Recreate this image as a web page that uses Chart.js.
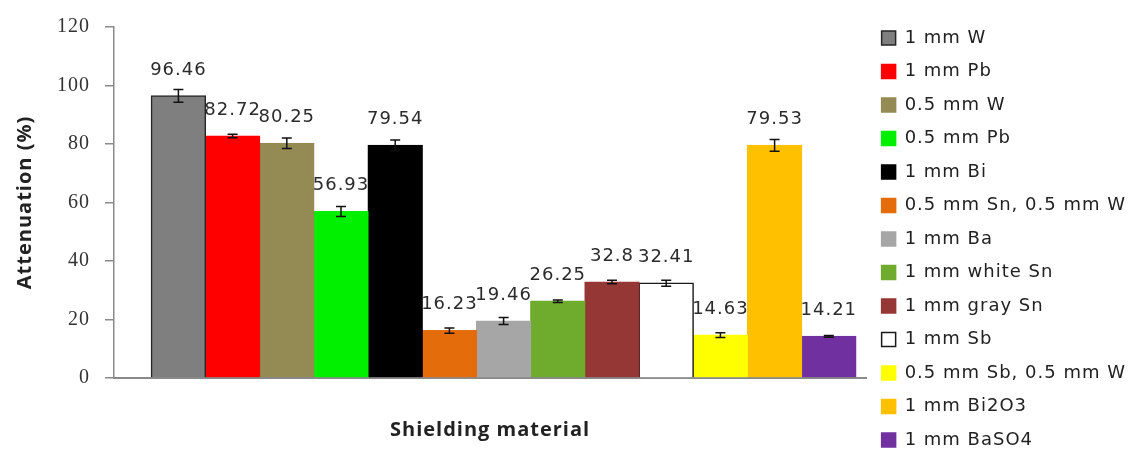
<!DOCTYPE html>
<html>
<head>
<meta charset="utf-8">
<script src="https://cdn.jsdelivr.net/npm/chart.js@4/dist/chart.umd.min.js"></script>
<style>
  html, body { margin: 0; padding: 0; background: #fff; overflow: hidden; }
  #wrap { width: 1136px; height: 472px; }
</style>
</head>
<body>
<div id="wrap"><canvas id="attenuationChart" width="1136" height="472"></canvas></div>
<script>
var materials = ['1 mm W', '1 mm Pb', '0.5 mm W', '0.5 mm Pb', '1 mm Bi', '0.5 mm Sn, 0.5 mm W', '1 mm Ba',
  '1 mm white Sn', '1 mm gray Sn', '1 mm Sb', '0.5 mm Sb, 0.5 mm W', '1 mm Bi2O3', '1 mm BaSO4'];
var attenuation = [96.46, 82.72, 80.25, 56.93, 79.54, 16.23, 19.46, 26.25, 32.8, 32.41, 14.63, 79.53, 14.21];
var errors = [2.2, 0.6, 1.8, 1.7, 1.8, 0.9, 1.2, 0.4, 0.6, 1.0, 0.8, 2.0, 0.3];
var yRange = [0, 120];
var yStep = 20;

var fills = ['#7f7f7f', '#ff0000', '#948a54', '#00f000', '#000000', '#e46c0a', '#a6a6a6',
  '#6fac2e', '#953735', '#ffffff', '#ffff00', '#ffc000', '#7030a0'];
var edges = ['#262626', '#ff0000', '#948a54', '#00f000', '#000000', '#e46c0a', '#a6a6a6',
  '#6fac2e', '#953735', '#1a1a1a', '#ffff00', '#ffc000', '#7030a0'];

// the single group of bars sits a little right of the middle of the plot
var groupCenter = 0.536;

// the reference text is set a bit wide
var spacedText = {
  id: 'spacedText',
  beforeUpdate: function (chart) { chart.ctx.letterSpacing = '1px'; },
  beforeDraw: function (chart) { chart.ctx.letterSpacing = '1px'; }
};

// error bars and value labels on top of each bar
var errorBarsAndLabels = {
  id: 'errorBarsAndLabels',
  afterDatasetsDraw: function (chart) {
    var ctx = chart.ctx;
    var yScale = chart.scales.y;
    ctx.save();
    chart.data.datasets.forEach(function (ds, i) {
      var bar = chart.getDatasetMeta(i).data[0];
      var value = attenuation[i];
      var top = yScale.getPixelForValue(value + errors[i]);
      var bottom = yScale.getPixelForValue(value - errors[i]);
      ctx.strokeStyle = '#111';
      ctx.lineWidth = 1.5;
      ctx.beginPath();
      ctx.moveTo(bar.x, top);
      ctx.lineTo(bar.x, bottom);
      ctx.moveTo(bar.x - 5, top);
      ctx.lineTo(bar.x + 5, top);
      ctx.moveTo(bar.x - 5, bottom);
      ctx.lineTo(bar.x + 5, bottom);
      ctx.stroke();

      ctx.fillStyle = '#2b2b2b';
      ctx.font = '18px "DejaVu Sans"';
      ctx.textAlign = 'center';
      ctx.textBaseline = 'middle';
      ctx.fillText(String(value), bar.x, bar.y - 26);
    });
    ctx.restore();
  }
};

var datasets = [];
for (var i = 0; i < materials.length; i++) {
  datasets.push({
    label: materials[i],
    data: [{ x: groupCenter, y: attenuation[i] }],
    backgroundColor: fills[i],
    borderColor: edges[i],
    borderWidth: 1.5,
    barThickness: 54.2,
    inflateAmount: 0.6
  });
}

var chart = new Chart(document.getElementById('attenuationChart').getContext('2d'), {
  type: 'bar',
  data: { datasets: datasets },
  options: {
    responsive: false,
    animation: false,
    layout: { padding: 0 },
    plugins: {
      tooltip: { enabled: false },
      title: {
        display: true,
        text: ' ',
        fullSize: false,
        font: { size: 10, lineHeight: 1 },
        padding: { top: 14, bottom: 0 }
      },
      legend: {
        position: 'right',
        align: 'start',
        title: {
          display: true,
          text: ' ',
          font: { size: 13.5, lineHeight: 1 },
          padding: 0
        },
        labels: {
          boxWidth: 14,
          boxHeight: 14,
          padding: 15.5,
          color: '#222',
          font: { family: '"DejaVu Sans"', size: 18 }
        }
      }
    },
    scales: {
      x: {
        type: 'linear',
        min: 0,
        max: 1,
        grid: { display: false, drawTicks: false },
        border: { display: true, color: '#8a8a8a', width: 2 },
        ticks: { display: false, stepSize: 1 },
        title: {
          display: true,
          text: 'Shielding material',
          color: '#222',
          font: { family: '"Open Sans"', size: 20, weight: 'bold', lineHeight: 1.2 },
          padding: { top: 40, bottom: 30 }
        }
      },
      y: {
        min: yRange[0],
        max: yRange[1],
        afterFit: function (scale) { scale.width = 114; },
        ticks: {
          stepSize: yStep,
          padding: 15,
          color: '#333',
          font: { family: '"Liberation Serif"', size: 20 }
        },
        grid: {
          drawOnChartArea: false,
          drawTicks: true,
          tickLength: 9,
          tickColor: '#8a8a8a',
          lineWidth: 1.5
        },
        border: { display: true, color: '#8a8a8a', width: 1.5 },
        title: {
          display: true,
          text: 'Attenuation (%)',
          color: '#222',
          font: { family: '"Open Sans"', size: 20, weight: 'bold', lineHeight: 1.2 },
          padding: { top: 13, bottom: 0 }
        }
      }
    }
  },
  plugins: [spacedText, errorBarsAndLabels]
});
</script>
</body>
</html>
